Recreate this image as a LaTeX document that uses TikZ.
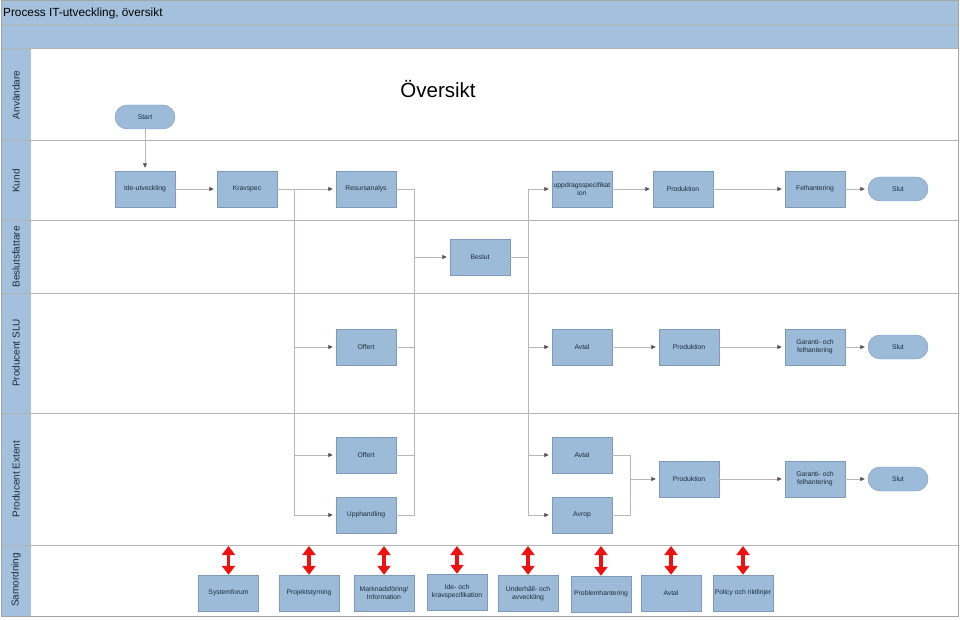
\documentclass[tikz,border=0pt]{standalone}
\usepackage{fontspec}
\setmainfont{Liberation Sans}
\usetikzlibrary{arrows.meta,calc}
\definecolor{barblue}{HTML}{A3C1DC}
\definecolor{boxblue}{HTML}{9BBBD8}
\definecolor{boxline}{HTML}{7E9AB5}
\definecolor{txt}{HTML}{1E2B3A}
\definecolor{conn}{HTML}{BDB6B6}
\definecolor{tipc}{HTML}{5E4E4E}
\definecolor{lanel}{HTML}{B4B4B4}
\definecolor{redar}{HTML}{EE1111}
\begin{document}
\begin{tikzpicture}[x=1pt,y=-1pt,
 proc/.style={draw=boxline, fill=boxblue, minimum width=60pt, minimum height=36pt, inner sep=1pt,
   font=\fontsize{6.8}{8}\selectfont, text=txt, align=center},
 term/.style={draw=boxline, fill=boxblue, rounded corners=12pt, minimum width=60pt, minimum height=24pt,
   inner sep=1pt, font=\fontsize{6.8}{8}\selectfont, text=txt},
 lanelabel/.style={rotate=90, font=\fontsize{10}{12}\selectfont, text=txt},
 wire/.style={draw=conn, line width=0.8pt},
 flow/.style={wire, -{Triangle[length=4.5pt,width=4pt,color=tipc]}, shorten >=3pt},
 redarrow/.style={draw=redar, line width=3.8pt, {Triangle[width=13pt,length=9pt]}-{Triangle[width=13pt,length=9pt]}},
 laneline/.style={draw=lanel, line width=1pt}
]
\useasboundingbox (0,0) rectangle (960,620);
% bars and header column
\fill[barblue] (1,1) rectangle (958,49);
\fill[barblue] (1,49) rectangle (31,616);
\draw[laneline] (1,25) -- (958,25);
\draw[laneline] (1,49) -- (958,49);
\foreach \yy in {141,221,293,413,545} \draw[laneline] (1,\yy) -- (958,\yy);
\draw[draw=gray!70, line width=1pt] (1,1) rectangle (958,616);

\node[anchor=west, font=\fontsize{11.8}{14}\selectfont, inner sep=0pt] (title) at (3,13) {Process IT-utveckling, översikt};
\node[font=\fontsize{20.5}{24}\selectfont, text=black] (overs) at (438,89) {Översikt};

% lane labels
\node[lanelabel] (lA) at (16,95) {Användare};
\node[lanelabel] (lK) at (16,181) {Kund};
\node[lanelabel] (lB) at (16,257) {Beslutsfattare};
\node[lanelabel] (lS) at (16,353) {Producent SLU};
\node[lanelabel] (lE) at (16,479) {Producent Extent};
\node[lanelabel] (lM) at (16,580) {Samordning};

% trunk coordinates
\coordinate (tA) at (294,0);
\coordinate (tB) at (414,0);
\coordinate (tC) at (528,0);
\coordinate (tD) at (630,0);
\coordinate (sam) at (0,546);

% nodes
\node[term] (start) at (145,117) {Start};
\node[proc] (ide) at (145,189) {Ide-utveckling};
\node[proc] (krav) at (247,189) {Kravspec};
\node[proc] (res) at (366,189) {Resursanalys};
\node[proc] (upp) at (582,189) {uppdragsspecifikat\\ion};
\node[proc] (prodK) at (683,189) {Produktion};
\node[proc] (felK) at (815,189) {Felhantering};
\node[term] (slutK) at (898,189) {Slut};
\node[proc] (beslut) at (480,257) {Beslut};
\node[proc] (offS) at (366,347) {Offert};
\node[proc] (avtS) at (582,347) {Avtal};
\node[proc] (prodS) at (689,347) {Produktion};
\node[proc] (garS) at (815,347) {Garanti- och\\felhantering};
\node[term] (slutS) at (898,347) {Slut};
\node[proc] (offE) at (366,455) {Offert};
\node[proc] (upph) at (366,515) {Upphandling};
\node[proc] (avtE) at (582,455) {Avtal};
\node[proc] (avrop) at (582,515) {Avrop};
\node[proc] (prodE) at (689,479) {Produktion};
\node[proc] (garE) at (815,479) {Garanti- och\\felhantering};
\node[term] (slutE) at (898,479) {Slut};

% samordning
\node[proc] (s1) at (228.5,593) {Systemforum};
\node[proc] (s2) at (309,593) {Projektstyrning};
\node[proc] (s3) at (384,593) {Marknadsföring/\\Information};
\node[proc] (s4) at (457,592) {Ide- och\\kravspecifikation};
\node[proc] (s5) at (528,593) {Underhåll- och\\avveckling};
\node[proc] (s6) at (601,594) {Problemhantering};
\node[proc] (s7) at (671,593) {Avtal};
\node[proc] (s8) at (743,593) {Policy och riktlinjer};
\foreach \n in {s1,s2,s3,s4,s5,s6,s7,s8}
  \draw[redarrow] (\n.north) -- (\n.north |- sam);

% connectors
\draw[flow] (start) -- (ide);
\draw[flow] (ide) -- (krav);
\draw[flow] (krav) -- (res);
\draw[wire] (krav.east) -- (krav.east -| tA);
\draw[flow] (krav.east -| tA) |- (offS.west);
\draw[flow] (krav.east -| tA) |- (offE.west);
\draw[flow] (krav.east -| tA) |- (upph.west);

\draw[wire] (res.east) -| (upph.east -| tB) -- (upph.east);
\draw[wire] (offS.east) -- (offS.east -| tB);
\draw[wire] (offE.east) -- (offE.east -| tB);
\draw[flow] (beslut.west -| tB) -- (beslut.west);

\draw[wire] (beslut.east) -- (beslut.east -| tC);
\draw[flow] (beslut.east -| tC) |- (upp.west);
\draw[flow] (beslut.east -| tC) |- (avtS.west);
\draw[flow] (beslut.east -| tC) |- (avtE.west);
\draw[flow] (beslut.east -| tC) |- (avrop.west);

\draw[flow] (upp) -- (prodK);
\draw[flow] (prodK) -- (felK);
\draw[flow] (felK) -- (slutK);
\draw[flow] (avtS) -- (prodS);
\draw[flow] (prodS) -- (garS);
\draw[flow] (garS) -- (slutS);

\draw[wire] (avtE.east) -| (avrop.east -| tD) -- (avrop.east);
\draw[flow] (prodE.west -| tD) -- (prodE.west);
\draw[flow] (prodE) -- (garE);
\draw[flow] (garE) -- (slutE);
\end{tikzpicture}
\end{document}
